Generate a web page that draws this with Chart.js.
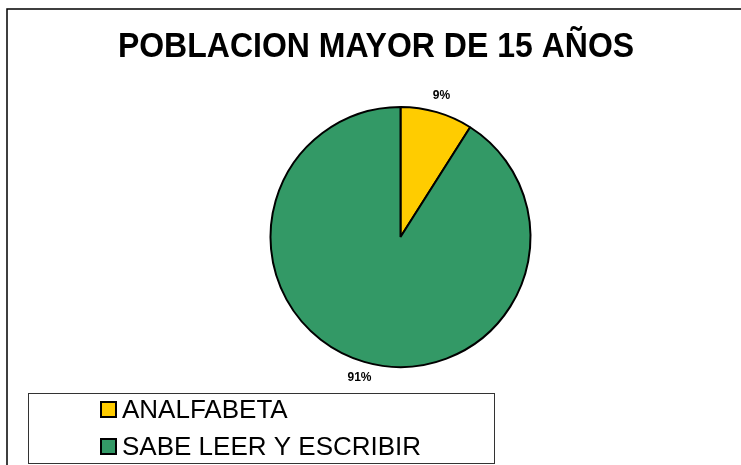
<!DOCTYPE html>
<html>
<head>
<meta charset="utf-8">
<script src="https://cdn.jsdelivr.net/npm/chart.js@4/dist/chart.umd.min.js"></script>
<style>
  html, body { margin: 0; padding: 0; background: #fff; }
  #wrap { width: 741px; height: 465px; position: relative; }
</style>
</head>
<body>
<div id="wrap"><canvas id="pieChart"></canvas></div>
<script>
const categories = ["ANALFABETA", "SABE LEER Y ESCRIBIR"];
const values = [9, 91];
const sliceColors = ["#FFCC00", "#339966"];
const chartTitle = "POBLACION MAYOR DE 15 AÑOS";

// frame, title and the boxed legend at the bottom left
const framePlugin = {
  id: "frame",
  afterDraw(chart) {
    const ctx = chart.ctx;
    ctx.save();
    ctx.strokeStyle = "#000";
    ctx.lineWidth = 1.5;
    ctx.strokeRect(7, 9, 800, 500);

    // title, a bit taller than the plain font
    ctx.save();
    ctx.translate(376, 47);
    ctx.scale(1, 1.1);
    ctx.font = "bold 32px 'Liberation Sans', Arial, sans-serif";
    ctx.fillStyle = "#000";
    ctx.textAlign = "center";
    ctx.textBaseline = "middle";
    ctx.fillText(chartTitle, 0, 0);
    ctx.restore();

    // legend box
    ctx.lineWidth = 1;
    ctx.strokeStyle = "#333";
    ctx.fillStyle = "#fff";
    ctx.fillRect(28.5, 393.5, 466, 70);
    ctx.strokeRect(28.5, 393.5, 466, 70);

    ctx.font = "26px 'Liberation Sans', Arial, sans-serif";
    ctx.textBaseline = "middle";
    categories.forEach((cat, i) => {
      const y = 410 + i * 37;
      ctx.fillStyle = sliceColors[i];
      ctx.fillRect(101, y - 8, 15, 15);
      ctx.lineWidth = 2;
      ctx.strokeStyle = "#000";
      ctx.strokeRect(101, y - 8, 15, 15);
      ctx.fillStyle = "#000";
      ctx.fillText(cat, 122, y + 1);
    });
    ctx.restore();
  },
};

// percentage labels just outside each slice
const outsideLabels = {
  id: "outsideLabels",
  afterDatasetsDraw(chart) {
    const ctx = chart.ctx;
    const meta = chart.getDatasetMeta(0);
    const total = values.reduce((a, b) => a + b, 0);
    ctx.save();
    ctx.font = "bold 12px 'Liberation Sans', Arial, sans-serif";
    ctx.fillStyle = "#000";
    ctx.textAlign = "center";
    ctx.textBaseline = "middle";
    meta.data.forEach((arc, i) => {
      const mid = (arc.startAngle + arc.endAngle) / 2;
      const r = arc.outerRadius + 17;
      const pct = Math.round((values[i] / total) * 100) + "%";
      ctx.fillText(pct, arc.x + Math.cos(mid) * r, arc.y + Math.sin(mid) * r);
    });
    ctx.restore();
  },
};

const dataPie = {
  labels: categories,
  datasets: [
    {
      data: values,
      backgroundColor: sliceColors,
      borderColor: "#000",
      borderWidth: 2,
    },
  ],
};

const configPie = {
  type: "pie",
  data: dataPie,
  options: {
    responsive: false,
    animation: false,
    layout: {
      padding: { left: 140, right: 80, top: 106, bottom: 97 },
    },
    plugins: {
      legend: { display: false },
      tooltip: { enabled: false },
      title: { display: false },
    },
  },
  plugins: [outsideLabels, framePlugin],
};

const canvas = document.getElementById("pieChart");
canvas.width = 741;
canvas.height = 465;
const myPieChart = new Chart(canvas, configPie);
</script>
</body>
</html>
